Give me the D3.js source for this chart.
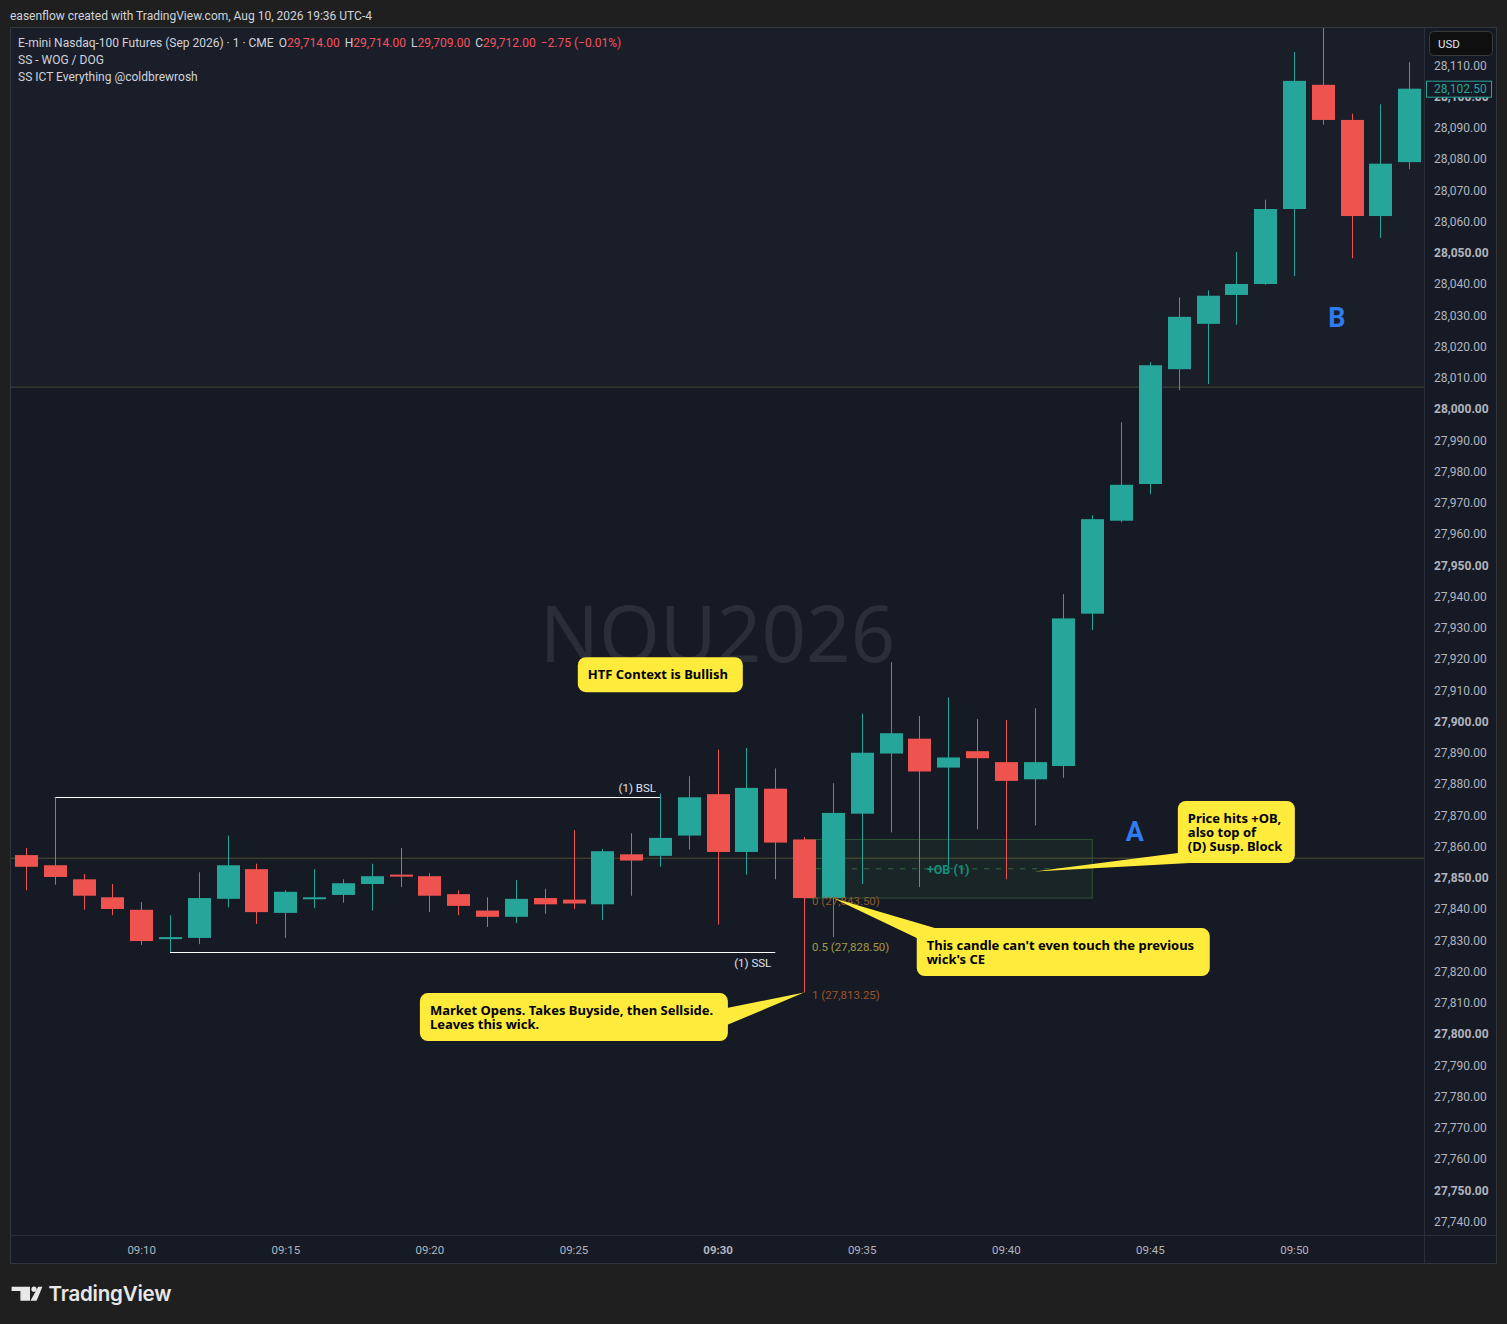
<!DOCTYPE html>
<html lang="en">
<head>
  <meta charset="UTF-8">
  <title>NQU2026 1m</title>
  <script src="https://cdn.jsdelivr.net/npm/d3@7"></script>
  <style>
    body { margin: 0; background: #1f1f1f; }
    svg text { font-family: Roboto, "Noto Sans", sans-serif; }
    .callout-text { font-family: "Noto Sans", sans-serif !important; font-size: 13px; font-weight: bold; fill: #000; }
    .axis-label { font-size: 12px; fill: #b2b5be; }
  </style>
</head>
<body>
  <div id="container"></div>

  <script>
    // candle data, minutes after 09:00
    const minutes = [6, 7, 8, 9, 10, 11, 12, 13, 14, 15, 16, 17, 18, 19, 20, 21, 22, 23, 24, 25,
      26, 27, 28, 29, 30, 31, 32, 33, 34, 35, 36, 37, 38, 39, 40, 41, 42, 43, 44, 45,
      46, 47, 48, 49, 50, 51, 52, 53, 54];
    const opens = [27857.25, 27854, 27849.5, 27843.75, 27839.75, 27830.5, 27830.75, 27843.25, 27852.75, 27838.75,
      27843.75, 27844.5, 27848, 27851, 27850.5, 27844.75, 27839.5, 27837.5, 27843.5, 27843,
      27841.5, 27857.5, 27857, 27863.5, 27876.75, 27858.25, 27878.5, 27862.25, 27843.5, 27870.5,
      27889.75, 27894.5, 27885.25, 27890.5, 27887, 27881.5, 27885.75, 27934.5, 27964.25, 27976,
      28012.75, 28027.25, 28036.5, 28040, 28064, 28103.75, 28092.5, 28061.75, 28079];
    const highs = [27859.5, 27875.75, 27851.25, 27848, 27842.25, 27838, 27851.75, 27863.5, 27854.5, 27846,
      27852.75, 27849.5, 27854.5, 27859.5, 27851.5, 27846, 27843.75, 27849.25, 27846.5, 27865.25,
      27859.25, 27864.25, 27877, 27882.5, 27891, 27891.5, 27885, 27863, 27880.25, 27902.5,
      27919, 27901.75, 27907.75, 27900.75, 27900.5, 27904.25, 27940.75, 27966, 27995.75, 28015,
      28035.75, 28038, 28050.25, 28067, 28114.25, 28125, 28094.5, 28097.5, 28111];
    const lows = [27846, 27847.75, 27839.75, 27838, 27828.5, 27826.25, 27828.75, 27840.5, 27835.25, 27830.75,
      27840.25, 27842, 27839.5, 27847, 27839, 27838, 27834.25, 27835.5, 27838.5, 27840,
      27836.5, 27844.25, 27853.5, 27859, 27835, 27851, 27849.5, 27813.25, 27831, 27848,
      27864.5, 27847, 27854, 27865.5, 27849.5, 27866.75, 27882, 27929.25, 27963.75, 27972.75,
      28006, 28008, 28027, 28039.75, 28042.5, 28091, 28048.25, 28054.75, 28076.75];
    const closes = [27853.5, 27850.25, 27844.25, 27840, 27829.75, 27831, 27843.5, 27854, 27839, 27845.5,
      27843.75, 27848.25, 27850.5, 27850.75, 27844.25, 27841, 27837.5, 27843.25, 27841.5, 27841.75,
      27858.5, 27855.5, 27862.75, 27875.75, 27858.25, 27878.75, 27861.25, 27843.5, 27870.75, 27890,
      27896.25, 27884, 27888.5, 27888.25, 27881, 27887, 27933, 27964.75, 27975.75, 28014,
      28029.5, 28036.25, 28040, 28064, 28105, 28092.5, 28061.75, 28078.5, 28102.5];

    // axis ticks
    const timeTicks = [10, 15, 20, 25, 30, 35, 40, 45, 50];
    const priceTicks = [27740, 27750, 27760, 27770, 27780, 27790, 27800, 27810, 27820, 27830, 27840, 27850,
      27860, 27870, 27880, 27890, 27900, 27910, 27920, 27930, 27940, 27950, 27960, 27970, 27980, 27990,
      28000, 28010, 28020, 28030, 28040, 28050, 28060, 28070, 28080, 28090, 28100, 28110];

    // drawn levels
    const lastPrice = 28102.5;
    const prevLevel = 27856.25;
    const upperLevel = 28007;
    const bsl = { from: 7, to: 28, price: 27875.75, label: "(1) BSL" };
    const ssl = { from: 11, to: 32, price: 27826.25, label: "(1) SSL" };
    const orderBlock = { from: 33, to: 43, top: 27862.25, bottom: 27843.5, label: "+OB (1)" };
    const fibLevels = [
      { price: 27843.5, label: "0 (27,843.50)", color: "#8c5a2b" },
      { price: 27828.5, label: "0.5 (27,828.50)", color: "#a39a44" },
      { price: 27813.25, label: "1 (27,813.25)", color: "#9c5528" }
    ];
    const letters = [
      { m: 44.48, p: 27865, text: "A" },
      { m: 51.49, p: 28029.3, text: "B" }
    ];
    const callouts = [
      { m: 25.15, p: 27920.6, w: 165, h: 35, lines: ["HTF Context is Bullish"] },
      { m: 45.97, p: 27874.55, w: 117, h: 62, lines: ["Price hits +OB,", "also top of", "(D) Susp. Block"],
        tip: [41, 27852], base: [[0, 52], [12, 62]] },
      { m: 36.91, p: 27833.9, w: 293, h: 48, lines: ["This candle can't even touch the previous", "wick's CE"],
        tip: [34, 27843.5], base: [[0, 10], [18, 0]] },
      { m: 19.67, p: 27813.1, w: 308, h: 48, lines: ["Market Opens. Takes Buyside, then Sellside.", "Leaves this wick."],
        tip: [33, 27813.25], base: [[307, 15], [307, 32]] }
    ];

    // colors
    const green = "#26a69a";
    const red = "#ef5350";
    const yellow = "#ffeb3b";
    const paneBg = "#161a25";
    const gridLine = "#2a2e39";

    const W = 1507, H = 1324;
    const pane = { left: 11, right: 1424, top: 28, bottom: 1235 };

    const svg = d3.select("#container")
      .append("svg")
      .attr("width", W)
      .attr("height", H);

    // scales
    const x = d3.scaleLinear().domain([10, 50]).range([141.2, 1294]);
    const y = d3.scaleLinear().domain([27740, 28110]).range([1221.5, 65.25]);

    svg.append("defs").append("clipPath")
      .attr("id", "pane-clip")
      .append("rect")
      .attr("x", pane.left)
      .attr("y", pane.top)
      .attr("width", pane.right - pane.left)
      .attr("height", pane.bottom - pane.top);

    // chart frame
    svg.append("rect")
      .attr("x", 10.5).attr("y", 27.5)
      .attr("width", 1486).attr("height", 1236)
      .attr("fill", paneBg)
      .attr("stroke", "#34363d");

    svg.append("rect")
      .attr("x", pane.left).attr("y", pane.top)
      .attr("width", pane.right - pane.left)
      .attr("height", y(upperLevel) - pane.top)
      .attr("fill", "#1a1e29");

    const plot = svg.append("g").attr("clip-path", "url(#pane-clip)");

    // watermark
    plot.append("text")
      .attr("x", (pane.left + pane.right) / 2)
      .attr("y", 662)
      .attr("text-anchor", "middle")
      .style("font-family", "'Noto Sans', sans-serif")
      .style("font-size", "78px")
      .attr("fill", "#2a2e39")
      .text("NQU2026");

    // horizontal levels
    plot.append("line")
      .attr("x1", pane.left).attr("x2", pane.right)
      .attr("y1", y(prevLevel)).attr("y2", y(prevLevel))
      .attr("stroke", "#4f4f2e");
    plot.append("line")
      .attr("x1", pane.left).attr("x2", pane.right)
      .attr("y1", y(upperLevel)).attr("y2", y(upperLevel))
      .attr("stroke", "#46463a");

    // order block
    plot.append("rect")
      .attr("x", x(orderBlock.from))
      .attr("y", y(orderBlock.top))
      .attr("width", x(orderBlock.to) - x(orderBlock.from))
      .attr("height", y(orderBlock.bottom) - y(orderBlock.top))
      .attr("fill", "rgba(76,175,80,0.08)")
      .attr("stroke", "#2c5234");
    const ce = (orderBlock.top + orderBlock.bottom) / 2;
    plot.append("line")
      .attr("x1", x(orderBlock.from)).attr("x2", x(orderBlock.to) - 10)
      .attr("y1", y(ce)).attr("y2", y(ce))
      .attr("stroke", "#2f6b3c")
      .attr("stroke-dasharray", "5 7");
    plot.append("text")
      .attr("x", x((orderBlock.from + orderBlock.to) / 2))
      .attr("y", y(ce) + 1)
      .attr("dy", "0.35em")
      .attr("text-anchor", "middle")
      .style("font-size", "12.5px")
      .style("font-weight", "bold")
      .attr("fill", "#12917f")
      .text(orderBlock.label);

    // liquidity lines
    [bsl, ssl].forEach((d, i) => {
      plot.append("line")
        .attr("x1", x(d.from)).attr("x2", x(d.to))
        .attr("y1", Math.round(y(d.price)) + 0.5).attr("y2", Math.round(y(d.price)) + 0.5)
        .attr("stroke", "#ffffff");
      plot.append("text")
        .attr("x", x(d.to) - 4)
        .attr("y", y(d.price) + (i === 0 ? -5 : 15))
        .attr("text-anchor", "end")
        .style("font-size", "11.5px")
        .attr("fill", "#e0e3eb")
        .text(d.label);
    });

    // candles
    const candles = minutes.map((m, i) => ({ m, o: opens[i], h: highs[i], l: lows[i], c: closes[i] }));
    const bodyW = 23;

    plot.selectAll(".wick")
      .data(candles)
      .enter()
      .append("line")
      .attr("class", "wick")
      .attr("x1", d => Math.round(x(d.m)) + 0.5)
      .attr("x2", d => Math.round(x(d.m)) + 0.5)
      .attr("y1", d => y(d.h))
      .attr("y2", d => y(d.l))
      .attr("stroke", d => d.c >= d.o ? green : red);

    plot.selectAll(".body")
      .data(candles)
      .enter()
      .append("rect")
      .attr("class", "body")
      .attr("x", d => Math.round(x(d.m)) - 11)
      .attr("y", d => y(Math.max(d.o, d.c)))
      .attr("width", bodyW)
      .attr("height", d => Math.max(2, Math.abs(y(d.o) - y(d.c))))
      .attr("fill", d => d.c >= d.o ? green : red);

    // fib labels
    plot.selectAll(".fib")
      .data(fibLevels)
      .enter()
      .append("text")
      .attr("class", "fib")
      .attr("x", x(33) + 8)
      .attr("y", d => y(d.price) + 2.5)
      .attr("dy", "0.35em")
      .style("font-size", "11.5px")
      .attr("fill", d => d.color)
      .text(d => d.label);

    // callouts
    callouts.forEach(c => {
      const bx = x(c.m), by = y(c.p);
      const g = plot.append("g");
      if (c.tip) {
        const tx = x(c.tip[0]), ty = y(c.tip[1]);
        g.append("path")
          .attr("d", `M${bx + c.base[0][0]},${by + c.base[0][1]}L${tx},${ty}L${bx + c.base[1][0]},${by + c.base[1][1]}Z`)
          .attr("fill", yellow);
      }
      g.append("rect")
        .attr("x", bx).attr("y", by)
        .attr("width", c.w).attr("height", c.h)
        .attr("rx", 8)
        .attr("fill", yellow);
      const first = c.lines.length === 1 ? c.h / 2 : 17;
      c.lines.forEach((t, i) => {
        g.append("text")
          .attr("class", "callout-text")
          .attr("x", bx + 10)
          .attr("y", by + first + i * 14)
          .attr("dy", "0.35em")
          .text(t);
      });
    });

    // A / B markers
    plot.selectAll(".letter")
      .data(letters)
      .enter()
      .append("text")
      .attr("class", "letter")
      .attr("x", d => x(d.m))
      .attr("y", d => y(d.p))
      .attr("dy", "0.36em")
      .attr("text-anchor", "middle")
      .style("font-size", "27px")
      .style("font-weight", "bold")
      .attr("fill", "#2f7bf0")
      .text(d => d.text);

    // separators
    svg.append("line")
      .attr("x1", pane.right + 0.5).attr("x2", pane.right + 0.5)
      .attr("y1", 28).attr("y2", 1263)
      .attr("stroke", gridLine);
    svg.append("line")
      .attr("x1", 11).attr("x2", 1496)
      .attr("y1", pane.bottom + 0.5).attr("y2", pane.bottom + 0.5)
      .attr("stroke", gridLine);

    // price axis
    const yAxis = svg.append("g")
      .attr("transform", `translate(${pane.right},0)`)
      .call(d3.axisRight(y).tickValues(priceTicks).tickFormat(d3.format(",.2f")).tickSize(0).tickPadding(10));
    yAxis.select(".domain").remove();
    yAxis.selectAll("text")
      .attr("class", "axis-label")
      .style("font-weight", d => d % 50 === 0 ? "bold" : "normal")
      .attr("fill", d => d % 50 === 0 ? "#d1d4dc" : "#b2b5be");

    // time axis
    const xAxis = svg.append("g")
      .attr("transform", `translate(0,${pane.bottom})`)
      .call(d3.axisBottom(x).tickValues(timeTicks).tickFormat(d => "09:" + d3.format("02")(d)).tickSize(0).tickPadding(11));
    xAxis.select(".domain").remove();
    xAxis.selectAll("text")
      .attr("class", "axis-label")
      .style("font-size", "11.5px")
      .style("font-weight", d => d === 30 ? "bold" : "normal")
      .attr("fill", d => d === 30 ? "#e0e3eb" : "#b2b5be");

    // last price label
    svg.append("rect")
      .attr("x", 1426.5).attr("y", y(lastPrice) - 7.5)
      .attr("width", 65).attr("height", 16)
      .attr("fill", paneBg)
      .attr("stroke", green);
    svg.append("text")
      .attr("x", 1434)
      .attr("y", y(lastPrice) + 0.5)
      .attr("dy", "0.35em")
      .attr("class", "axis-label")
      .style("fill", green)
      .text(d3.format(",.2f")(lastPrice));

    // currency button
    svg.append("rect")
      .attr("x", 1429.5).attr("y", 31.5)
      .attr("width", 63).attr("height", 24)
      .attr("rx", 4)
      .attr("fill", "#0f0f0f")
      .attr("stroke", "#3a3a3a");
    svg.append("text")
      .attr("x", 1438).attr("y", 44)
      .attr("dy", "0.35em")
      .style("font-size", "11.5px")
      .attr("fill", "#e0e3eb")
      .text("USD");

    // header
    svg.append("text")
      .attr("x", 10).attr("y", 16)
      .attr("dy", "0.35em")
      .style("font-size", "12px")
      .attr("fill", "#d1d4dc")
      .text("easenflow created with TradingView.com, Aug 10, 2026 19:36 UTC-4");

    const legendRed = "#f7525f";
    const legend = svg.append("text")
      .attr("x", 18).attr("y", 43)
      .attr("dy", "0.35em")
      .style("font-size", "12px")
      .attr("fill", "#d1d4dc");
    const parts = [
      ["E-mini Nasdaq-100 Futures (Sep 2026) · 1 · CME", "#d1d4dc", 0],
      ["O", "#d1d4dc", 5], ["29,714.00", legendRed, 0],
      ["H", "#d1d4dc", 5], ["29,714.00", legendRed, 0],
      ["L", "#d1d4dc", 5], ["29,709.00", legendRed, 0],
      ["C", "#d1d4dc", 5], ["29,712.00", legendRed, 0],
      ["−2.75 (−0.01%)", legendRed, 5]
    ];
    parts.forEach(p => legend.append("tspan").attr("dx", p[2]).attr("fill", p[1]).text(p[0]));

    ["SS - WOG / DOG", "SS ICT Everything @coldbrewrosh"].forEach((t, i) => {
      svg.append("text")
        .attr("x", 18).attr("y", 60 + i * 17)
        .attr("dy", "0.35em")
        .style("font-size", "12px")
        .attr("fill", "#d1d4dc")
        .text(t);
    });

    // TradingView logo
    const logo = svg.append("g").attr("fill", "#e8e8e8");
    logo.append("path").attr("d", "M11.6,1286.7H30V1300.7H20.4V1291H11.6Z");
    logo.append("circle").attr("cx", 34).attr("cy", 1289.2).attr("r", 2.6);
    logo.append("path").attr("d", "M30.5,1300.7H36.6L42.4,1286.7H38.2Z");
    svg.append("text")
      .attr("x", 48.5).attr("y", 1301)
      .style("font-family", "Inter, Roboto, sans-serif")
      .style("font-size", "20.5px")
      .style("font-weight", "600")
      .style("letter-spacing", "-0.2px")
      .attr("fill", "#e8e8e8")
      .text("TradingView");
  </script>
</body>
</html>
